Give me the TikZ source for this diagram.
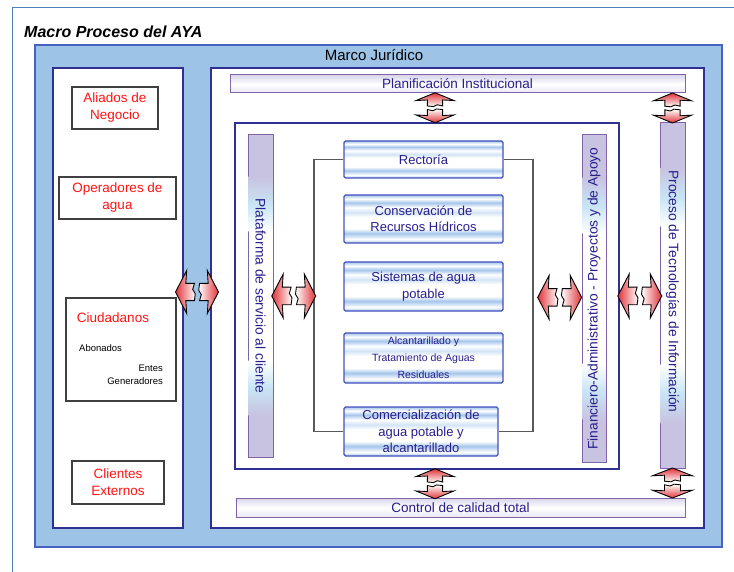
\documentclass[tikz,border=0pt]{standalone}
\usepackage{fontspec}
\usepackage{graphicx}
\setmainfont{Liberation Sans}
\usetikzlibrary{shapes,arrows}
\definecolor{frameblue}{RGB}{79, 129, 189}
\definecolor{marcoblue}{RGB}{157, 195, 230}
\definecolor{marcoedge}{RGB}{68, 98, 190}
\definecolor{panelnavy}{RGB}{46, 49, 146}
\definecolor{barpurple}{RGB}{128, 100, 170}
\definecolor{barlav}{RGB}{200, 195, 225}
\definecolor{barsky}{RGB}{200, 228, 245}
\definecolor{stripeblue}{RGB}{165, 198, 235}
\definecolor{stripelight}{RGB}{210, 228, 246}
\definecolor{boxedge}{RGB}{70, 80, 190}
\definecolor{textnavy}{RGB}{40, 30, 140}
\definecolor{actorred}{RGB}{255, 20, 20}
\definecolor{arrowred}{RGB}{225, 50, 55}
\pgfdeclareverticalshading{stripes}{100bp}{color(0bp)=(stripeblue); color(25bp)=(stripeblue);
  color(29bp)=(white); color(35bp)=(stripeblue); color(40bp)=(white); color(52bp)=(white);
  color(57bp)=(stripelight); color(62bp)=(white); color(67bp)=(stripeblue); color(71bp)=(white);
  color(75bp)=(stripeblue); color(100bp)=(stripeblue)}
\tikzstyle{pageframe} = [draw=frameblue, line width=0.8pt]
\tikzstyle{heading} = [font=\fontsize{16}{19}\selectfont\bfseries\itshape, inner sep=0pt]
\tikzstyle{marco} = [rectangle, draw=marcoedge, line width=1.2pt, fill=marcoblue]
\tikzstyle{marcolabel} = [font=\fontsize{15}{18}\selectfont, inner sep=0pt]
\tikzstyle{panel} = [rectangle, draw=panelnavy, line width=2pt, fill=white]
\tikzstyle{actor} = [rectangle, draw=black!75, line width=1.3pt, fill=white, text=actorred,
    align=center, font=\fontsize{13.5}{17}\selectfont]
\tikzstyle{actortext} = [text=actorred, font=\fontsize{13.5}{17}\selectfont, inner sep=0pt]
\tikzstyle{subtext} = [font=\fontsize{9.5}{13}\selectfont, inner sep=0pt]
\tikzstyle{hbar} = [rectangle, draw=barpurple, line width=1pt, top color=barlav!70,
    bottom color=barlav!40, middle color=white, text=textnavy, inner sep=0pt,
    font=\fontsize{13.5}{16}\selectfont]
\tikzstyle{pillar} = [rectangle, draw=barpurple, line width=1pt, fill=barlav, inner sep=0pt]
\tikzstyle{pillarlight} = [rectangle, fill=white, inner sep=0pt, outer sep=0pt]
\tikzstyle{pillarfade} = [rectangle, top color=barlav, bottom color=white, middle color=barsky,
    inner sep=0pt, outer sep=0pt]
\tikzstyle{pillarfadeup} = [rectangle, top color=white, bottom color=barlav, middle color=barsky,
    inner sep=0pt, outer sep=0pt]
\tikzstyle{vtext} = [text=textnavy, inner sep=0pt, font=\fontsize{13.8}{16}\selectfont]
\tikzstyle{process} = [rectangle, draw=boxedge, line width=1.2pt, rounded corners=1.5pt,
    shade, shading=stripes, text=textnavy, align=center, inner sep=1pt,
    minimum width=159pt, font=\fontsize{13}{16.5}\selectfont]
\tikzstyle{smalltext} = [font=\fontsize{10.5}{17}\selectfont]
\tikzstyle{link} = [draw=black!65, line width=1.3pt]
\tikzstyle{twin} = [draw=black, line width=0.9pt, line join=miter]
\tikzset{
  pics/hsplit/.style={code={
    \draw[twin, left color=arrowred, right color=white]
      (-0.5,0) -- (-0.24,0.5) -- (-0.26,0.2) -- (-0.06,0.2) -- (-0.1,0.06)
      -- (-0.04,-0.04) -- (-0.06,-0.2) -- (-0.26,-0.2) -- (-0.24,-0.5) -- cycle;
    \draw[twin, left color=white, right color=arrowred]
      (0.5,0) -- (0.24,-0.5) -- (0.26,-0.2) -- (0.06,-0.2) -- (0.1,-0.06)
      -- (0.04,0.04) -- (0.06,0.2) -- (0.26,0.2) -- (0.24,0.5) -- cycle;
  }},
  pics/vsplit/.style={code={
    \draw[twin, top color=arrowred, bottom color=white]
      (0,0.5) -- (0.5,0.24) -- (0.2,0.26) -- (0.2,0.06) -- (0.06,0.1)
      -- (-0.04,0.04) -- (-0.2,0.06) -- (-0.2,0.26) -- (-0.5,0.24) -- cycle;
    \draw[twin, top color=white, bottom color=arrowred]
      (0,-0.5) -- (-0.5,-0.24) -- (-0.2,-0.26) -- (-0.2,-0.06) -- (-0.06,-0.1)
      -- (0.04,-0.04) -- (0.2,-0.06) -- (0.2,-0.26) -- (0.5,-0.24) -- cycle;
  }}
}

\begin{document}
\begin{tikzpicture}[x=1pt, y=-1pt]
  \path[fill=white, use as bounding box] (0,0) rectangle (734,572);
  \draw[pageframe] (734,7) -| (12,572);
  \node[heading, anchor=west] (title) at (24,32) {Macro Proceso del AYA};
  \node[marco, minimum width=687pt, minimum height=502pt] (marco) at (378.5,296) {};
  \node[marcolabel] (marcotitle) at (374,55) {Marco Jurídico};
  \node[panel, minimum width=130pt, minimum height=460pt] (leftpanel) at (118,298) {};
  \node[panel, minimum width=493pt, minimum height=460pt] (rightpanel) at (457.5,298) {};
  % actors on the left
  \node[actor, minimum width=86pt, minimum height=42pt] (aliados) at (115,108)
    {Aliados de\\Negocio};
  \node[actor, minimum width=117pt, minimum height=42pt] (operadores) at (117.5,198)
    {Operadores de\\agua};
  \node[actor, minimum width=110pt, minimum height=103pt] (ciudadanos) at (121,349.5) {};
  \node[actortext] (ciudtitle) at (113,318) {Ciudadanos};
  \node[subtext, anchor=west] (abonados) at (79,348) {Abonados};
  \node[subtext, anchor=east, align=right] (entes) at (163,374.5) {Entes\\Generadores};
  \node[actor, minimum width=92pt, minimum height=43pt] (clientes) at (118,482.5)
    {Clientes\\Externos};
  % support bars
  \node[hbar, minimum width=455pt, minimum height=18pt] (plan) at (457.5,84)
    {Planificación Institucional};
  \node[hbar, minimum width=449pt, minimum height=19pt] (control) at (460.5,507.5)
    {Control de calidad total};
  \node[panel, minimum width=384pt, minimum height=346pt] (inner) at (427,296) {};
  \node[pillar, minimum width=25pt, minimum height=322pt] (plataforma) at (260.5,296) {};
  \node[pillar, minimum width=24pt, minimum height=327pt] (financiero) at (594,298.5) {};
  \node[pillar, minimum width=25pt, minimum height=345pt] (proceso) at (672.5,295.5) {};
  % light middle of each pillar
  \node[pillarlight, minimum width=24pt, minimum height=129pt] (plataformamid) at (plataforma) {};
  \node[pillarfade, minimum width=24pt, minimum height=55pt] (plataformatop) at ([yshift=92pt]plataforma.center) {};
  \node[pillarfadeup, minimum width=24pt, minimum height=55pt] (plataformabot) at ([yshift=-92pt]plataforma.center) {};
  \node[pillarlight, minimum width=23pt, minimum height=131pt] (financieromid) at (financiero) {};
  \node[pillarfade, minimum width=23pt, minimum height=56pt] (financierotop) at ([yshift=93pt]financiero.center) {};
  \node[pillarfadeup, minimum width=23pt, minimum height=56pt] (financierobot) at ([yshift=-93pt]financiero.center) {};
  \node[pillarlight, minimum width=24pt, minimum height=138pt] (procesomid) at (proceso) {};
  \node[pillarfade, minimum width=24pt, minimum height=59pt] (procesotop) at ([yshift=98pt]proceso.center) {};
  \node[pillarfadeup, minimum width=24pt, minimum height=59pt] (procesobot) at ([yshift=-98pt]proceso.center) {};
  \node[vtext] (plataformatext) at (plataforma)
    {\rotatebox{-90}{Plataforma de servicio al cliente}};
  \node[vtext] (financierotext) at (financiero)
    {\rotatebox{90}{Financiero-Administrativo - Proyectos y de Apoyo}};
  \node[vtext] (procesotext) at ([yshift=4pt]proceso.center)
    {\rotatebox{-90}{Proceso de Tecnologías de Información}};
  % core processes
  \node[process, minimum height=37pt] (rectoria) at (423.5,159.5) {Rectoría};
  \node[process, below of=rectoria, node distance=59.5pt, minimum height=48pt] (conservacion)
    {Conservación de\\Recursos Hídricos};
  \node[process, below of=conservacion, node distance=67.5pt, minimum height=49pt] (sistemas)
    {Sistemas de agua\\potable};
  \node[process, smalltext, below of=sistemas, node distance=71.5pt, minimum height=50pt] (alcantarillado)
    {Alcantarillado y\\Tratamiento de Aguas\\Residuales};
  \node[process, below of=alcantarillado, node distance=73.5pt, xshift=-2.5pt,
    minimum width=154pt, minimum height=49pt] (comercial)
    {Comercialización de\\agua potable y\\alcantarillado};
  \coordinate (brl) at (314,296);
  \coordinate (brr) at (533,296);
  \coordinate (axis) at (435,296);
  \draw[link] (rectoria.west) -| (brl) |- (comercial.west);
  \draw[link] (rectoria.east) -| (brr) |- (comercial.east);
  % exchanges
  \path ([yshift=6pt]leftpanel.east) -- ([yshift=6pt]rightpanel.west) pic[pos=.5, x=43pt, y=43pt] {hsplit};
  \path (plataforma.east) -- (brl) pic[pos=.5, x=44pt, y=44pt] {hsplit};
  \path (brr) -- (financiero.west) pic[pos=.55, x=44pt, y=44pt] {hsplit};
  \path (inner.east) -- (proceso.west |- inner.east) pic[pos=.5, x=44pt, y=44pt] {hsplit};
  \path (plan.south -| axis) -- (inner.north -| axis) pic[pos=.5, x=38pt, y=30pt] {vsplit};
  \path (inner.south -| axis) -- (control.north -| axis) pic[pos=.5, x=38pt, y=30pt] {vsplit};
  \path (plan.south -| proceso.north) -- (proceso.north) pic[pos=.5, x=38pt, y=30pt] {vsplit};
  \path (proceso.south) -- (control.north -| proceso.south) pic[pos=.5, x=40pt, y=30pt] {vsplit};
\end{tikzpicture}
\end{document}
